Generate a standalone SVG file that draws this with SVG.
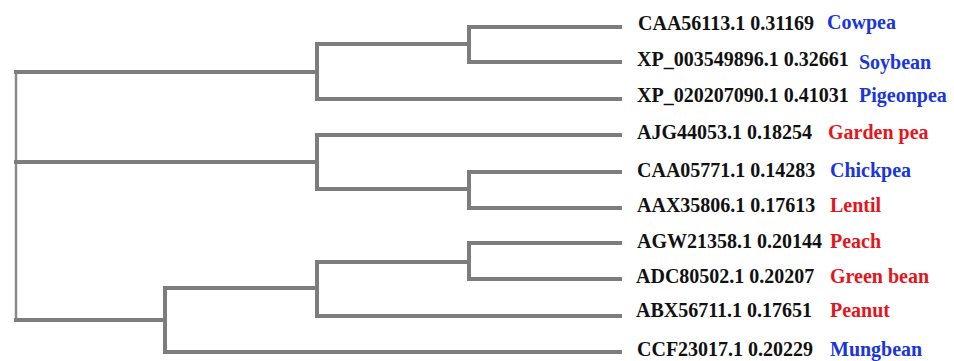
<svg xmlns="http://www.w3.org/2000/svg" width="954" height="361" viewBox="0 0 954 361">
<style>
.br{fill:none;stroke:#7d7d7d;stroke-width:4;stroke-linecap:square}
.rt{fill:none;stroke:#8a8a8a;stroke-width:2.5}
text{font-family:"Liberation Serif","Times New Roman",serif;font-weight:bold;font-size:20px}
.id{fill:#111}
.b{fill:#1a35dc}
.r{fill:#e4151c}
</style>
<rect width="954" height="361" fill="#fff"/>
<g id="connectors">
<path class="rt" d="M16,72 V320"/>
<path class="br" d="M16,72 H317 M16,162 H317 M16,320 H165"/>
<path class="br" d="M317,44 V99 M317,44 H469 M317,99 H620"/>
<path class="br" d="M469,27 V62 M469,27 H620 M469,62 H620"/>
<path class="br" d="M317,135 V189 M317,135 H620 M317,189 H469"/>
<path class="br" d="M469,172 V208 M469,172 H620 M469,208 H620"/>
<path class="br" d="M165,288 V352 M165,288 H317 M165,352 H620"/>
<path class="br" d="M317,262 V316 M317,262 H469 M317,316 H620"/>
<path class="br" d="M469,243 V279 M469,243 H620 M469,279 H620"/>
</g>
<g id="leaf-cowpea"><text class="id" x="638" y="30">CAA56113.1 0.31169</text><text class="b" x="827" y="28.5">Cowpea</text></g>
<g id="leaf-soybean"><text class="id" x="637" y="66">XP_003549896.1 0.32661</text><text class="b" x="859" y="68.5">Soybean</text></g>
<g id="leaf-pigeonpea"><text class="id" x="637" y="102">XP_020207090.1 0.41031</text><text class="b" x="859" y="102">Pigeonpea</text></g>
<g id="leaf-gardenpea"><text class="id" x="637" y="138.5">AJG44053.1 0.18254</text><text class="r" x="828" y="138.5">Garden pea</text></g>
<g id="leaf-chickpea"><text class="id" x="637" y="176.5">CAA05771.1 0.14283</text><text class="b" x="830" y="176.5">Chickpea</text></g>
<g id="leaf-lentil"><text class="id" x="637" y="212">AAX35806.1 0.17613</text><text class="r" x="830" y="212">Lentil</text></g>
<g id="leaf-peach"><text class="id" x="637" y="247.5">AGW21358.1 0.20144</text><text class="r" x="830" y="247.5">Peach</text></g>
<g id="leaf-greenbean"><text class="id" x="636" y="282.5">ADC80502.1 0.20207</text><text class="r" x="830" y="282.5">Green bean</text></g>
<g id="leaf-peanut"><text class="id" x="636" y="316.5">ABX56711.1 0.17651</text><text class="r" x="830" y="316.5">Peanut</text></g>
<g id="leaf-mungbean"><text class="id" x="637" y="355.5">CCF23017.1 0.20229</text><text class="b" x="830" y="355.5">Mungbean</text></g>
</svg>
